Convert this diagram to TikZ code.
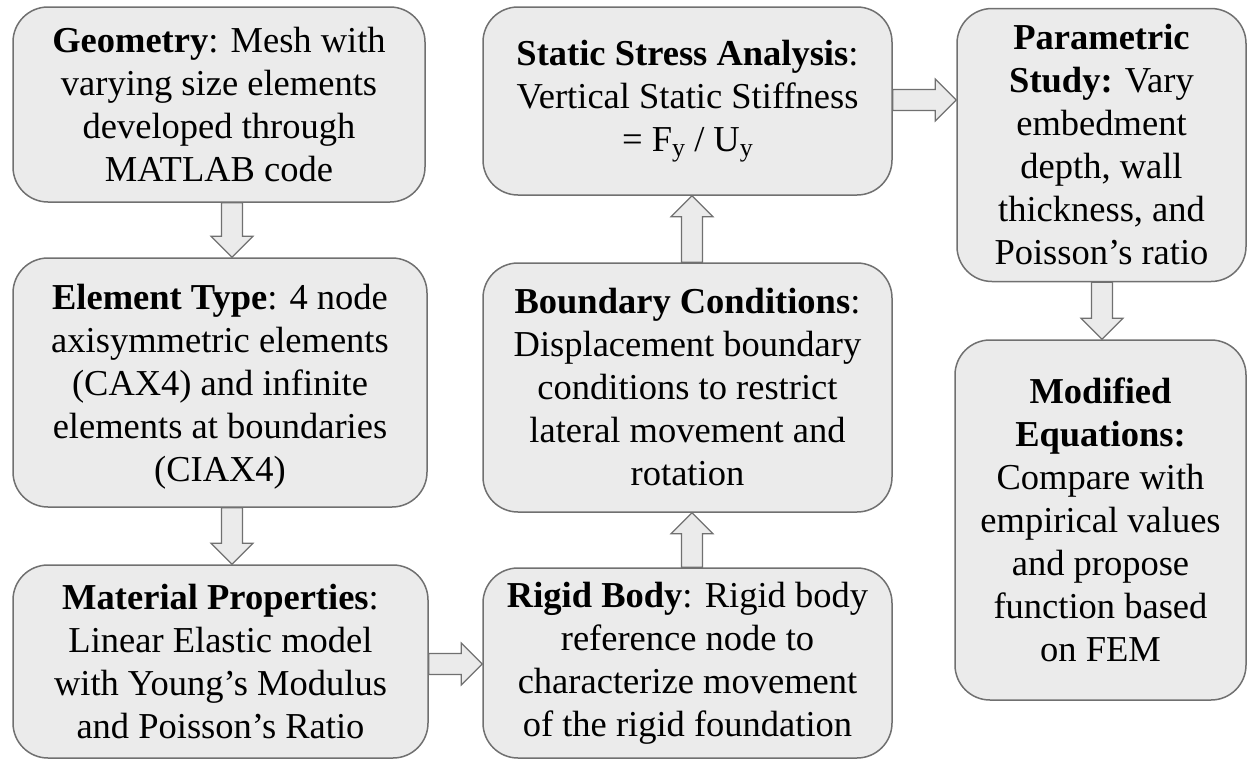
\documentclass[tikz,border=0pt]{standalone}
\usepackage{fontspec}
\setmainfont{Liberation Serif}
\usetikzlibrary{calc}
\definecolor{boxfill}{RGB}{235,235,235}
\definecolor{boxline}{RGB}{112,112,112}
\newcommand{\lowsub}[1]{\raisebox{-0.32ex}{\fontsize{26}{26}\selectfont #1}}
\tikzset{
  flowbox/.style={draw=boxline, line width=1.5pt, fill=boxfill, rounded corners=35pt,
    align=center, inner sep=0pt, font=\fontsize{36.5}{43}\selectfont},
  barrow/.style={draw=boxline, line width=1.2pt, fill=boxfill, line join=miter},
}
\newcommand{\blockarrow}[2]{%
  \draw[barrow] let \p1=(#1), \p2=(#2),
    \n1={veclen(\x2-\x1,\y2-\y1)}, \n2={atan2(\y2-\y1,\x2-\x1)} in
    [shift={(\p1)}, rotate=\n2]
    (0pt,-10.5pt) -- (\n1-21pt,-10.5pt) -- (\n1-21pt,-21pt) -- (\n1,0pt)
    -- (\n1-21pt,21pt) -- (\n1-21pt,10.5pt) -- (0pt,10.5pt) -- cycle;}
\begin{document}
\begin{tikzpicture}[x=1pt,y=-1pt]
\useasboundingbox (0,0) rectangle (1248,763);
\node[flowbox, minimum width=412pt, minimum height=195pt, text depth=0pt] (geo) at (219,104.5)
  {\textbf{Geometry}: Mesh with\\varying size elements\\developed through\\MATLAB code};
\node[flowbox, minimum width=414pt, minimum height=249pt, text depth=0pt] (elem) at (220,382.5)
  {\textbf{Element Type}: 4 node\\axisymmetric elements\\(CAX4) and infinite\\elements at boundaries\\(CIAX4)};
\node[flowbox, minimum width=415pt, minimum height=193pt, text depth=0pt] (mat) at (220.5,661.5)
  {\textbf{Material Properties}:\\Linear Elastic model\\with Young’s Modulus\\and Poisson’s Ratio};
\node[flowbox, minimum width=409pt, minimum height=190pt] (rigid) at (687.5,663)
  {\textbf{Rigid Body}: Rigid body\\reference node to\\characterize movement\\of the rigid foundation};
\node[flowbox, minimum width=409pt, minimum height=249pt] (bound) at (687.5,387.5)
  {\textbf{Boundary Conditions}:\\Displacement boundary\\conditions to restrict\\lateral movement and\\rotation};
\node[flowbox, minimum width=409pt, minimum height=188pt] (stat) at (687.5,101)
  {\textbf{Static Stress Analysis}:\\Vertical Static Stiffness\\= F\lowsub{y} / U\lowsub{y}};
\node[flowbox, minimum width=289pt, minimum height=273pt] (param) at (1101.5,145)
  {\textbf{Parametric}\\\textbf{Study:} Vary\\embedment\\depth, wall\\thickness, and\\Poisson’s ratio};
\node[flowbox, minimum width=291pt, minimum height=360pt] (mod) at (1100.5,520)
  {\textbf{Modified}\\\textbf{Equations:}\\Compare with\\empirical values\\and propose\\function based\\on FEM};
\coordinate (lx) at (232,0);
\coordinate (mx) at (692,0);
\coordinate (rx) at (1102,0);
\coordinate (ty) at (0,100);
\coordinate (by) at (0,664);
\blockarrow{geo.south -| lx}{elem.north -| lx}
\blockarrow{elem.south -| lx}{mat.north -| lx}
\blockarrow{mat.east |- by}{rigid.west |- by}
\blockarrow{rigid.north -| mx}{bound.south -| mx}
\blockarrow{bound.north -| mx}{stat.south -| mx}
\blockarrow{stat.east |- ty}{param.west |- ty}
\blockarrow{param.south -| rx}{mod.north -| rx}
\end{tikzpicture}
\end{document}
